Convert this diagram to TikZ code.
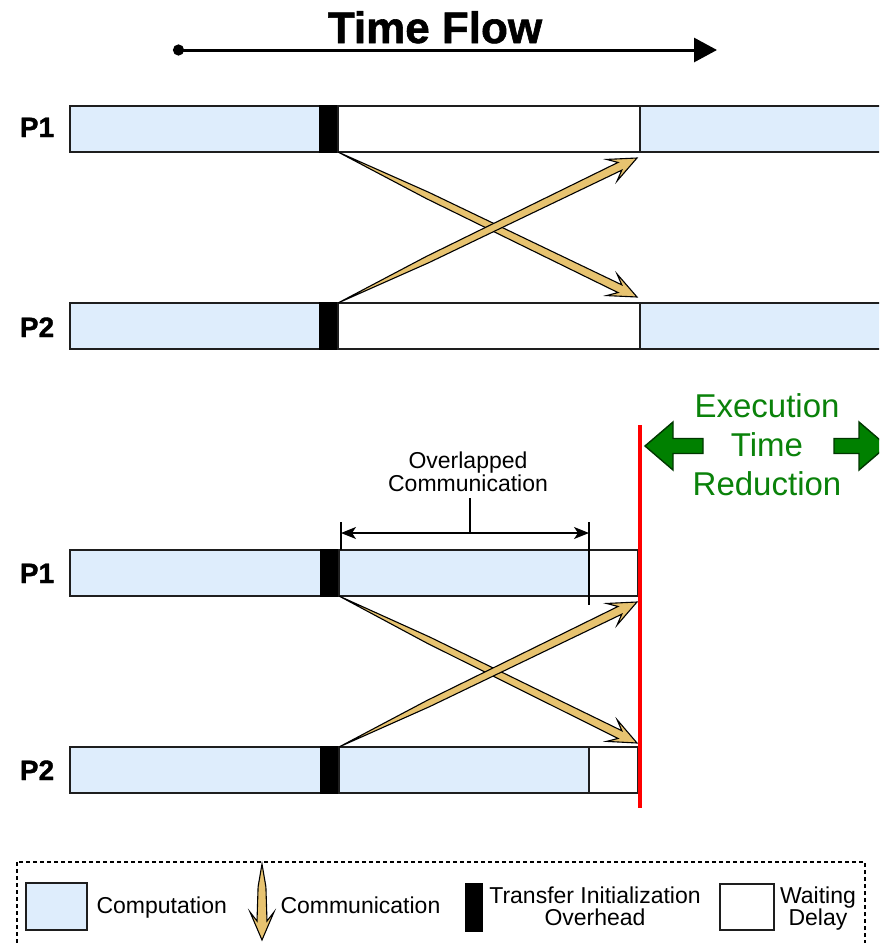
\documentclass[tikz,border=0pt]{standalone}
\usepackage{fontspec}
\setmainfont{Liberation Sans}
\newfontfamily\heavyfont{Liberation Sans Bold}[FakeBold=1.3]
\usetikzlibrary{calc,arrows.meta}

\definecolor{compblue}{RGB}{222,237,252}
\definecolor{commtan}{RGB}{231,195,112}
\definecolor{edgegray}{RGB}{30,30,30}
\definecolor{cutred}{RGB}{255,0,0}
\definecolor{gainfill}{RGB}{0,128,0}
\definecolor{gainedge}{RGB}{0,55,0}
\definecolor{gaintext}{RGB}{10,130,10}

\tikzset{
  seg/.style={draw=edgegray, line width=1.4pt, minimum height=46pt,
    anchor=north west, inner sep=0pt, outer sep=0pt},
  comp/.style={seg, fill=compblue},
  waitbox/.style={seg, fill=white},
  ovh/.style={seg, fill=black, draw=black},
  plabel/.style={font=\fontsize{28}{28}\heavyfont\selectfont, anchor=base},
  commshape/.style={fill=commtan, draw=black, line width=1.1pt, line join=miter},
  gainshape/.style={fill=gainfill, draw=gainedge, line width=1.4pt},
  legtext/.style={font=\fontsize{23}{22}\selectfont},
}

% tapered communication arrow: #2 = start, #3 = tip, #1 = shaft half width
\newcommand\commarrow[3][4.3pt]{%
  \filldraw[commshape] (#2)
    -- ($(#2)!0.3!(#3)!0.78*#1!90:(#3)$)
    -- ($(#3)!19pt!(#2)!#1!90:(#3)$)
    -- ($(#3)!28pt!(#2)!12pt!90:(#3)$)
    -- (#3)
    -- ($(#3)!28pt!(#2)!12pt!-90:(#3)$)
    -- ($(#3)!19pt!(#2)!#1!-90:(#3)$)
    -- ($(#2)!0.3!(#3)!0.78*#1!-90:(#3)$)
    -- cycle;}

\begin{document}
\begin{tikzpicture}[x=1pt, y=-1pt]
\clip (0,0) rectangle (879,943);
\fill[white] (0,0) rectangle (879,943);

% ---------- time axis ----------
\node[font=\fontsize{44}{44}\heavyfont\selectfont, anchor=base] (title) at (435,43) {Time Flow};
\coordinate (tfs) at (173,50);
\coordinate (tfe) at (717,50);
\draw[line width=3pt, {Circle[length=11pt]}-{Triangle[length=23pt,width=24pt]}] (tfs) -- (tfe);

% ---------- blocking exchange ----------
\node[plabel] (tp1) at (37,137) {P1};
\node[comp, minimum width=250pt] (t1a) at (70,106) {};
\node[ovh, minimum width=18pt] (t1o) at (320,106) {};
\node[waitbox, minimum width=302pt] (t1w) at (338,106) {};
\node[comp, minimum width=250pt] (t1b) at (640,106) {};

\node[plabel] (tp2) at (37,337) {P2};
\node[comp, minimum width=250pt] (t2a) at (70,303) {};
\node[ovh, minimum width=18pt] (t2o) at (320,303) {};
\node[waitbox, minimum width=302pt] (t2w) at (338,303) {};
\node[comp, minimum width=250pt] (t2b) at (640,303) {};

\coordinate (t1in) at (637,158);
\coordinate (t2in) at (637,297);
\commarrow{t1o.south east}{t2in}
\commarrow{t2o.north east}{t1in}

% ---------- overlapped exchange ----------
\node[plabel] (bp1) at (37,583) {P1};
\node[comp, minimum width=251pt] (b1a) at (70,550) {};
\node[ovh, minimum width=18pt] (b1o) at (321,550) {};
\node[comp, minimum width=250pt] (b1c) at (339,550) {};
\node[waitbox, minimum width=49pt] (b1w) at (589,550) {};

\node[plabel] (bp2) at (37,780) {P2};
\node[comp, minimum width=251pt] (b2a) at (70,747) {};
\node[ovh, minimum width=18pt] (b2o) at (321,747) {};
\node[comp, minimum width=250pt] (b2c) at (339,747) {};
\node[waitbox, minimum width=49pt] (b2w) at (589,747) {};

\coordinate (b1in) at (637,602);
\coordinate (b2in) at (637,743);
\commarrow{b1o.south east}{b2in}
\commarrow{b2o.north east}{b1in}

% overlap span marker
\coordinate (ovl) at (341,533);
\coordinate (ovr) at (589,533);
\coordinate (ltick1) at (341,522);
\coordinate (ltick2) at (341,550);
\coordinate (rtick1) at (589,522);
\coordinate (rtick2) at (589,605);
\coordinate (ctick1) at (470,498);
\coordinate (ctick2) at (470,533);
\draw[line width=1.2pt] (ltick1) -- (ltick2);
\draw[line width=1.2pt] (rtick1) -- (rtick2);
\draw[line width=1.2pt, {Stealth[length=15pt,width=12pt,inset=4pt]}-{Stealth[length=15pt,width=12pt,inset=4pt]}] (ovl) -- (ovr);
\node[font=\fontsize{23}{23}\selectfont, align=center, anchor=base] (ovtxt) at (468,491) {Overlapped\\Communication};
\draw[line width=1.2pt] (ctick1) -- (ctick2);

% end of the overlapped run
\coordinate (rtop) at (640,425);
\coordinate (rbot) at (640,808);
\draw[cutred, line width=4.5pt] (rtop) -- (rbot);

% gain annotation
\node[font=\fontsize{33}{39}\selectfont, text=gaintext, align=center, anchor=base] (gain) at (767,495) {Execution\\Time\\Reduction};
\filldraw[gainshape] (645,446) -- (673,422) -- (673,438.5) -- (703,438.5) -- (703,453.5) -- (673,453.5) -- (673,470) -- cycle;
\filldraw[gainshape] (887,446) -- (859,422) -- (859,438.5) -- (834,438.5) -- (834,453.5) -- (859,453.5) -- (859,470) -- cycle;

% ---------- legend ----------
\draw[line width=1.2pt, dash pattern=on 4pt off 3pt] (17,862) rectangle (865,955);
\node[comp, minimum width=61pt, minimum height=47pt] (lgcomp) at (26,883) {};
\node[legtext, anchor=base west] (lgcompt) at (93,913) {Computation};
\coordinate (lgas) at (262,864);
\coordinate (lgat) at (262,940);
\commarrow[5pt]{lgas}{lgat}
\node[legtext, anchor=base west] (lgcommt) at (277,913) {Communication};
\node[ovh, minimum width=16pt, minimum height=47pt] (lgovh) at (466,884) {};
\node[legtext, align=center, anchor=base] (lgovht) at (595,925) {Transfer Initialization\\Overhead};
\node[waitbox, minimum width=54pt, minimum height=46pt] (lgwait) at (720,884) {};
\node[legtext, align=center, anchor=base] (lgwaitt) at (818,925) {Waiting\\Delay};
\end{tikzpicture}
\end{document}
